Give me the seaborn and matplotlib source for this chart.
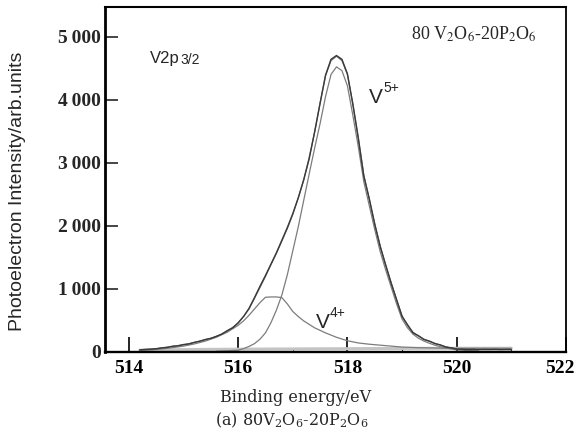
import matplotlib
matplotlib.use('Agg')
import matplotlib.pyplot as plt
import matplotlib.transforms as mtransforms
import seaborn as sns

# grid used for measured spectrum and total fit
energy = [514.2, 514.3, 514.4, 514.5, 514.6, 514.7, 514.8, 514.9, 515.0, 515.1,
          515.2, 515.3, 515.4, 515.5, 515.6, 515.7, 515.8, 515.9, 516.0, 516.1,
          516.2, 516.3, 516.4, 516.5, 516.6, 516.7, 516.8, 516.9, 517.0, 517.1,
          517.2, 517.3, 517.4, 517.5, 517.6, 517.7, 517.8, 517.9, 518.0, 518.1,
          518.2, 518.3, 518.4, 518.5, 518.6, 518.7, 518.8, 518.9, 519.0, 519.1,
          519.2, 519.3, 519.4, 519.5, 519.6, 519.7, 519.8, 519.9, 520.0, 520.1,
          520.2, 520.3, 520.4, 520.5, 520.6, 520.7, 520.8, 520.9, 521.0]
measured = [30, 38, 42, 48, 62, 70, 88, 95, 115, 125,
            150, 168, 195, 212, 245, 280, 335, 380, 460, 560,
            690, 860, 1040, 1210, 1390, 1570, 1770, 1970, 2190, 2440,
            2730, 3060, 3490, 3940, 4390, 4640, 4700, 4640, 4410, 3930,
            3390, 2790, 2430, 2030, 1670, 1380, 1090, 830, 560, 430,
            300, 255, 195, 170, 130, 110, 75, 62, 42, 40,
            36, 38, 34, 36, 35, 37, 34, 36, 35]
total_fit = [28, 35, 40, 50, 60, 72, 85, 98, 110, 128,
             148, 170, 192, 215, 242, 282, 330, 385, 455, 560,
             680, 850, 1020, 1195, 1380, 1560, 1755, 1955, 2180, 2440,
             2720, 3080, 3480, 3950, 4380, 4620, 4690, 4620, 4400, 3920,
             3380, 2800, 2420, 2020, 1680, 1370, 1100, 820, 570, 420,
             310, 250, 200, 165, 135, 105, 80, 60, 45, 40,
             38, 36, 35, 35, 35, 35, 35, 35, 35]

# V5+ component
energy_v5 = [515.6, 515.8, 516.0, 516.1, 516.2, 516.3, 516.4, 516.5, 516.6, 516.7,
             516.8, 516.9, 517.0, 517.1, 517.2, 517.3, 517.4, 517.5, 517.6, 517.7,
             517.8, 517.9, 518.0, 518.1, 518.2, 518.3, 518.4, 518.5, 518.6, 518.7,
             518.8, 518.9, 519.0, 519.1, 519.2, 519.3, 519.4, 519.5, 519.6, 519.7,
             519.8, 519.9, 520.0, 520.2, 520.4]
v5_peak = [10, 15, 25, 50, 85, 130, 200, 300, 460, 660,
           900, 1220, 1600, 1980, 2400, 2820, 3230, 3620, 4050, 4400,
           4520, 4460, 4220, 3750, 3250, 2700, 2320, 1940, 1590, 1300,
           1030, 760, 520, 380, 280, 215, 170, 135, 105, 80,
           60, 45, 30, 20, 15]

# V4+ component
energy_v4 = [514.2, 514.4, 514.6, 514.8, 515.0, 515.2, 515.4, 515.6, 515.8, 516.0,
             516.1, 516.2, 516.3, 516.4, 516.5, 516.6, 516.7, 516.8, 516.9, 517.0,
             517.1, 517.2, 517.4, 517.6, 517.8, 518.0, 518.2, 518.4, 518.6, 518.8,
             519.0, 519.3, 519.6, 520.0, 520.5, 521.0]
v4_peak = [20, 30, 45, 65, 90, 125, 170, 230, 310, 420,
           490, 580, 680, 780, 865, 870, 870, 860, 760, 640,
           560, 490, 380, 300, 230, 175, 140, 120, 105, 90,
           75, 65, 60, 55, 55, 55]

# background
energy_bg = [514.2, 514.6, 515.0, 515.4, 515.8, 516.2, 516.6, 517.0, 517.4, 517.8,
             518.2, 518.6, 519.0, 519.4, 519.8, 520.2, 520.6, 521.0]
background = [25, 30, 35, 38, 40, 42, 44, 45, 47, 48,
              50, 52, 53, 55, 55, 56, 56, 56]

x_ticks = [514, 516, 518, 520, 522]
x_minor = [515, 517, 519, 521]
y_ticks = [0, 1000, 2000, 3000, 4000, 5000]
y_ticklabels = ['0', '1\u2009000', '2\u2009000', '3\u2009000', '4\u2009000', '5\u2009000']

sns.set_theme(style='ticks')
plt.rcParams['font.family'] = ['Liberation Serif', 'DejaVu Serif']

fig = plt.figure(figsize=(5.79, 4.37), dpi=100)
ax = fig.add_axes([0.181, 0.195, 0.7965, 0.789])

sns.lineplot(x=energy_bg, y=background, ax=ax, color='#c4c4c4', lw=2.2, zorder=1)
sns.lineplot(x=energy_v4, y=v4_peak, ax=ax, color='#7c7c7c', lw=0.9, zorder=2)
sns.lineplot(x=energy_v5, y=v5_peak, ax=ax, color='#7c7c7c', lw=0.9, zorder=2)
sns.lineplot(x=energy, y=total_fit, ax=ax, color='#707070', lw=0.9, zorder=3)
sns.lineplot(x=energy, y=measured, ax=ax, color='#3a3a3a', lw=1.0, zorder=4)

ax.set_xlim(513.56, 522)
ax.set_ylim(0, 5470)
ax.set_xticks(x_ticks)
ax.set_xticks(x_minor, minor=True)
ax.set_yticks(y_ticks)
ax.set_yticklabels(y_ticklabels)

ax.tick_params(axis='x', which='major', direction='in', length=11, width=1.2,
               pad=6, colors='black')
ax.tick_params(axis='x', which='minor', direction='in', length=3, width=0.8)
ax.tick_params(axis='y', direction='in', length=9.5, width=1.2, pad=3)
ax.tick_params(top=False, right=False)

for lab in ax.get_xticklabels() + ax.get_yticklabels():
    lab.set_fontweight('bold')
    lab.set_fontsize(14)
# last x label sits a little left so it stays inside the figure
last = ax.xaxis.get_major_ticks()[-1].label1
last.set_transform(last.get_transform() + mtransforms.ScaledTranslation(-6 / 100, 0, fig.dpi_scale_trans))

for side, w in [('left', 2.0), ('bottom', 1.7), ('top', 1.5), ('right', 1.3)]:
    ax.spines[side].set_linewidth(w)
    ax.spines[side].set_color('black')
ax.set_xlabel('')
ax.set_ylabel('')

sans = ['Liberation Sans', 'DejaVu Sans']

# peak labels
t = ax.text(514.38, 4587, 'V2p', family=sans, fontsize=12, va='baseline')
ax.annotate('3/2', xy=(1, 0.22), xycoords=t, xytext=(0.5, -1.5), textcoords='offset points',
            family=sans, fontsize=10, va='baseline', ha='left')
t5 = ax.text(518.39, 3947, 'V', family=sans, fontsize=15, va='baseline')
ax.annotate('5+', xy=(1, 0.8), xycoords=t5, xytext=(0.3, 0), textcoords='offset points',
            family=sans, fontsize=10, va='baseline', ha='left')
t4 = ax.text(517.42, 376, 'V', family=sans, fontsize=15, va='baseline')
ax.annotate('4+', xy=(1, 0.8), xycoords=t4, xytext=(0.3, 0), textcoords='offset points',
            family=sans, fontsize=10, va='baseline', ha='left')
ax.text(519.16, 4952, '80 V$_2$O$_6$-20P$_2$O$_6$', fontsize=13, va='baseline',
        math_fontfamily='stix')

fig.text(0.03, 0.562, 'Photoelectron Intensity/arb.units', family=sans, fontsize=14,
         rotation=90, ha='center', va='center')
fig.text(0.511, 0.0915, 'Binding energy/eV', family=['DejaVu Serif'], fontsize=11.5,
         ha='center', va='center')
fig.text(0.504, 0.039, '(a) 80V$_2$O$_6$-20P$_2$O$_6$', family=['DejaVu Serif'],
         fontsize=11.5, ha='center', va='center', math_fontfamily='dejavuserif')

fig.savefig('out.png', dpi=100)
